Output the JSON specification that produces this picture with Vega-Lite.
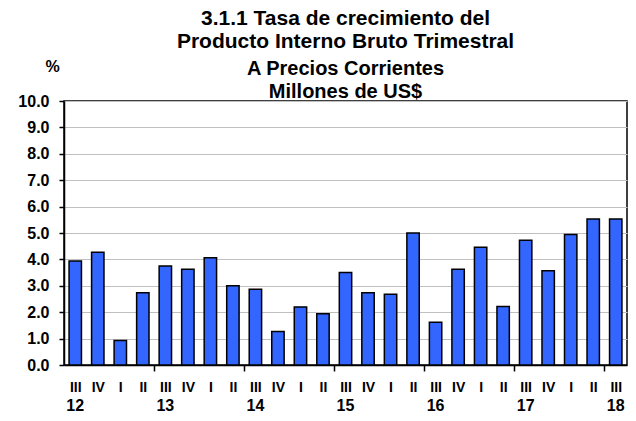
{
  "$schema": "https://vega.github.io/schema/vega-lite/v6.json",
  "autosize": {"type": "none"},
  "padding": {"left": 64, "top": 101, "right": 9, "bottom": 56},
  "width": 563,
  "height": 264,
  "background": "white",
  "config": {
    "view": {"stroke": "black", "strokeWidth": 1.5},
    "axis": {"labelColor": "black", "labelFont": "Liberation Sans", "labelFontWeight": "bold", "titleFont": "Liberation Sans", "titleColor": "black"}
  },
  "title": {
    "text": ["3.1.1 Tasa de crecimiento del", "Producto Interno Bruto Trimestral"],
    "subtitle": ["A Precios Corrientes", "Millones de US$"],
    "font": "Liberation Sans",
    "fontSize": 21,
    "fontWeight": "bold",
    "lineHeight": 23.4,
    "color": "black",
    "subtitleFont": "Liberation Sans",
    "subtitleFontSize": 20,
    "subtitleFontWeight": "bold",
    "subtitleColor": "black",
    "subtitleLineHeight": 22.7,
    "subtitlePadding": 7,
    "anchor": "middle",
    "frame": "group",
    "offset": -44
  },
  "data": {
    "values": [
      {"k": "12-III", "v": 3.94},
      {"k": "12-IV", "v": 4.27},
      {"k": "13-I", "v": 0.93},
      {"k": "13-II", "v": 2.74},
      {"k": "13-III", "v": 3.75},
      {"k": "13-IV", "v": 3.63},
      {"k": "14-I", "v": 4.06},
      {"k": "14-II", "v": 3.0},
      {"k": "14-III", "v": 2.87},
      {"k": "14-IV", "v": 1.27},
      {"k": "15-I", "v": 2.2},
      {"k": "15-II", "v": 1.94},
      {"k": "15-III", "v": 3.5},
      {"k": "15-IV", "v": 2.74},
      {"k": "16-I", "v": 2.68},
      {"k": "16-II", "v": 5.0},
      {"k": "16-III", "v": 1.62},
      {"k": "16-IV", "v": 3.63},
      {"k": "17-I", "v": 4.46},
      {"k": "17-II", "v": 2.22},
      {"k": "17-III", "v": 4.73},
      {"k": "17-IV", "v": 3.57},
      {"k": "18-I", "v": 4.94},
      {"k": "18-II", "v": 5.53},
      {"k": "18-III", "v": 5.53}
    ]
  },
  "encoding": {
    "y": {
      "field": "v",
      "type": "quantitative",
      "scale": {"domain": [0, 10], "nice": false},
      "axis": {
        "values": [0, 1, 2, 3, 4, 5, 6, 7, 8, 9, 10],
        "format": ".1f",
        "labelFontSize": 16,
        "labelPadding": 10,
        "tickSize": 5,
        "tickColor": "black",
        "tickWidth": 1.5,
        "domainColor": "black",
        "domainWidth": 1.5,
        "grid": true,
        "gridColor": "#c0c0c0",
        "gridWidth": 1.2,
        "title": "%",
        "titleAngle": 0,
        "titleFontSize": 16,
        "titleFontWeight": "bold",
        "titleAlign": "center",
        "titleBaseline": "middle",
        "titleX": -12,
        "titleY": -35
      }
    }
  },
  "layer": [
    {
      "mark": {"type": "bar", "fill": "#3366ff", "stroke": "black", "strokeWidth": 1.5},
      "encoding": {
        "x": {
          "field": "k",
          "type": "nominal",
          "sort": null,
          "scale": {"paddingInner": 0.45, "paddingOuter": 0.225},
          "axis": {
            "orient": "bottom",
            "title": null,
            "labelExpr": "split(datum.value, '-')[1]",
            "labelAngle": 0,
            "labelFontSize": 14,
            "labelPadding": 9,
            "labelOverlap": false,
            "labelOffset": -11.26,
            "ticks": true,
            "tickSize": 6,
            "tickOffset": 11.26,
            "tickColor": "black",
            "tickWidth": 1.5,
            "tickOpacity": {"condition": {"test": "split(datum.value, '-')[1] == 'II'", "value": 1}, "value": 0},
            "domainColor": "black",
            "domainWidth": 1.5,
            "grid": false
          }
        }
      }
    },
    {
      "mark": {"type": "bar", "fillOpacity": 0, "strokeOpacity": 0},
      "encoding": {
        "x": {
          "field": "k",
          "type": "nominal",
          "sort": null,
          "axis": {
            "orient": "bottom",
            "title": null,
            "values": ["12-III", "13-III", "14-III", "15-III", "16-III", "17-III", "18-III"],
            "labelExpr": "split(datum.value, '-')[0]",
            "labelAngle": 0,
            "labelFontSize": 16,
            "labelPadding": 32,
            "labelOverlap": false,
            "ticks": false,
            "tickSize": 0,
            "domain": false,
            "grid": false
          }
        }
      }
    }
  ],
  "resolve": {"axis": {"x": "independent"}}
}
